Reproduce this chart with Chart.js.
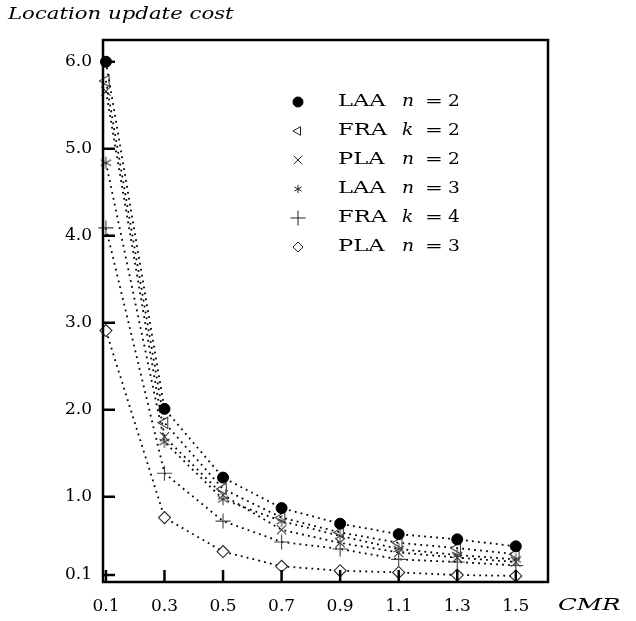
<!DOCTYPE html>
<html><head><meta charset="utf-8">
<script src="https://cdn.jsdelivr.net/npm/chart.js@4.4.0/dist/chart.umd.min.js"></script>
<style>html,body{margin:0;padding:0;background:#fff;}</style>
</head><body>
<canvas id="c" width="636" height="621"></canvas>
<script>
const cmr = [0.1, 0.3, 0.5, 0.7, 0.9, 1.1, 1.3, 1.5];
const laa2 = [6.0, 2.01, 1.22, 0.87, 0.69, 0.57, 0.51, 0.43];
const fra2 = [5.78, 1.85, 1.09, 0.76, 0.59, 0.47, 0.41, 0.34];
const pla2 = [5.66, 1.69, 1.02, 0.62, 0.47, 0.36, 0.30, 0.25];
const laa3 = [4.84, 1.63, 0.97, 0.72, 0.55, 0.40, 0.33, 0.28];
const fra4 = [4.09, 1.27, 0.72, 0.48, 0.40, 0.28, 0.25, 0.21];
const pla3 = [2.91, 0.76, 0.37, 0.20, 0.15, 0.13, 0.10, 0.09];
const yTicks = [0.1, 1.0, 2.0, 3.0, 4.0, 5.0, 6.0];
const xTicks = [0.1, 0.3, 0.5, 0.7, 0.9, 1.1, 1.3, 1.5];
const legendNames = ['LAA', 'FRA', 'PLA', 'LAA', 'FRA', 'PLA'];
const legendVars = ['n', 'k', 'n', 'n', 'k', 'n'];
const legendVals = ['2', '2', '2', '3', '4', '3'];
const titleText = 'Location update cost';
const xTitle = 'CMR';

const GRAY = '#444';
function asterisk(size, r, color, lw) {
  const c = document.createElement('canvas');
  c.width = size; c.height = size;
  const g = c.getContext('2d');
  g.strokeStyle = color; g.lineWidth = lw;
  const m = size / 2;
  for (let i = 0; i < 3; i++) {
    const a = Math.PI / 2 + i * Math.PI / 3;
    g.beginPath();
    g.moveTo(m - r * Math.cos(a), m - r * Math.sin(a));
    g.lineTo(m + r * Math.cos(a), m + r * Math.sin(a));
    g.stroke();
  }
  return c;
}
const star = asterisk(14, 6, GRAY, 1.1);
const starSmall = asterisk(10, 4.2, '#222', 1);

const serif = '"DejaVu Serif", "Liberation Serif", serif';
const series = [laa2, fra2, pla2, laa3, fra4, pla3];
const styles = [
  {pointStyle: 'circle', radius: 5.5, rot: 0, bg: '#000', bc: '#000', bw: 1},
  {pointStyle: 'triangle', radius: 6.5, rot: -90, bg: 'rgba(0,0,0,0)', bc: GRAY, bw: 1.1},
  {pointStyle: 'crossRot', radius: 6.5, rot: 0, bg: 'rgba(0,0,0,0)', bc: GRAY, bw: 1.1},
  {pointStyle: star, radius: 6, rot: 0, bg: 'rgba(0,0,0,0)', bc: GRAY, bw: 1.1},
  {pointStyle: 'cross', radius: 7.5, rot: 0, bg: 'rgba(0,0,0,0)', bc: GRAY, bw: 1.1},
  {pointStyle: 'rectRot', radius: 6, rot: 0, bg: '#fff', bc: '#222', bw: 1.1}
];
const legendStyles = [
  {pointStyle: 'circle', radius: 5, rot: 0, bg: '#000', bc: '#000', bw: 1},
  {pointStyle: 'triangle', radius: 5, rot: -90, bg: 'rgba(0,0,0,0)', bc: '#222', bw: 1},
  {pointStyle: 'crossRot', radius: 6, rot: 0, bg: 'rgba(0,0,0,0)', bc: '#222', bw: 1},
  {pointStyle: starSmall, radius: 5, rot: 0, bg: 'rgba(0,0,0,0)', bc: '#222', bw: 1},
  {pointStyle: 'cross', radius: 7.5, rot: 0, bg: 'rgba(0,0,0,0)', bc: '#222', bw: 1},
  {pointStyle: 'rectRot', radius: 5, rot: 0, bg: '#fff', bc: '#222', bw: 1}
];

const datasets = series.map((s, i) => ({
  label: legendNames[i] + ' ' + legendVars[i] + ' = ' + legendVals[i],
  data: cmr.map((x, j) => ({x: x, y: s[j]})),
  borderColor: '#000',
  borderWidth: 1.8,
  borderDash: [1.8, 4.2],
  showLine: true,
  tension: 0,
  fill: false,
  clip: false,
  pointStyle: styles[i].pointStyle,
  pointRadius: styles[i].radius,
  pointRotation: styles[i].rot,
  pointBackgroundColor: styles[i].bg,
  pointBorderColor: styles[i].bc,
  pointBorderWidth: styles[i].bw
}));

function wideText(ctx, txt, x, y, font, sx) {
  ctx.save();
  ctx.font = font;
  ctx.translate(x, y);
  ctx.scale(sx, 1);
  ctx.fillText(txt, 0, 0);
  ctx.restore();
}

const decor = {
  id: 'decor',
  afterDraw(chart) {
    const ctx = chart.ctx, a = chart.chartArea;
    const xs = chart.scales.x, ys = chart.scales.y;
    ctx.save();
    ctx.strokeStyle = '#000';
    ctx.lineWidth = 2.5;
    ctx.strokeRect(a.left, a.top, a.right - a.left, a.bottom - a.top);
    ctx.beginPath();
    yTicks.forEach(v => { const p = ys.getPixelForValue(v); ctx.moveTo(a.left, p); ctx.lineTo(a.left + 12, p); });
    xTicks.forEach(v => { const p = xs.getPixelForValue(v); ctx.moveTo(p, a.bottom); ctx.lineTo(p, a.bottom - 12); });
    ctx.stroke();
    ctx.fillStyle = '#000';
    ctx.textBaseline = 'middle';
    ctx.textAlign = 'left';
    wideText(ctx, titleText, 8, 15, 'italic 17px ' + serif, 1.25);
    wideText(ctx, xTitle, 558, 606, 'italic 17px ' + serif, 1.45);
    const lx = 298, ly0 = 102, dy = 29;
    for (let i = 0; i < 6; i++) {
      const y = ly0 + i * dy;
      const st = legendStyles[i];
      ctx.save();
      ctx.fillStyle = st.bg; ctx.strokeStyle = st.bc; ctx.lineWidth = st.bw;
      Chart.helpers.drawPoint(ctx, {pointStyle: st.pointStyle, rotation: st.rot, radius: st.radius, borderWidth: st.bw}, lx, y);
      ctx.restore();
      ctx.fillStyle = '#000';
      wideText(ctx, legendNames[i], 338, y, '17px ' + serif, 1.33);
      wideText(ctx, legendVars[i], 402, y, 'italic 17px ' + serif, 1.1);
      wideText(ctx, '=', 425, y, '17px ' + serif, 1.25);
      wideText(ctx, legendVals[i], 448, y, '17px ' + serif, 1.1);
    }
    ctx.restore();
  }
};

new Chart(document.getElementById('c'), {
  type: 'scatter',
  data: {datasets: datasets},
  options: {
    responsive: false,
    animation: false,
    layout: {padding: {left: 0, top: 40, right: 88, bottom: 0}},
    plugins: {legend: {display: false}, tooltip: {enabled: false}},
    scales: {
      x: {
        type: 'linear', min: 0.09, max: 1.61,
        grid: {display: false, drawTicks: false},
        border: {display: false},
        afterBuildTicks: s => { s.ticks = xTicks.map(v => ({value: v})); },
        afterFit: s => { s.height = 39; },
        ticks: {padding: 14, color: '#000', font: {family: serif, size: 17}, maxRotation: 0,
          callback: v => v.toFixed(1)}
      },
      y: {
        type: 'linear', min: 0.02, max: 6.25,
        grid: {display: false, drawTicks: false},
        border: {display: false},
        afterBuildTicks: s => { s.ticks = yTicks.map(v => ({value: v})); },
        afterFit: s => { s.width = 103; },
        ticks: {padding: 11, color: '#000', font: {family: serif, size: 17},
          callback: v => v.toFixed(1)}
      }
    }
  },
  plugins: [decor]
});
</script>
</body></html>
